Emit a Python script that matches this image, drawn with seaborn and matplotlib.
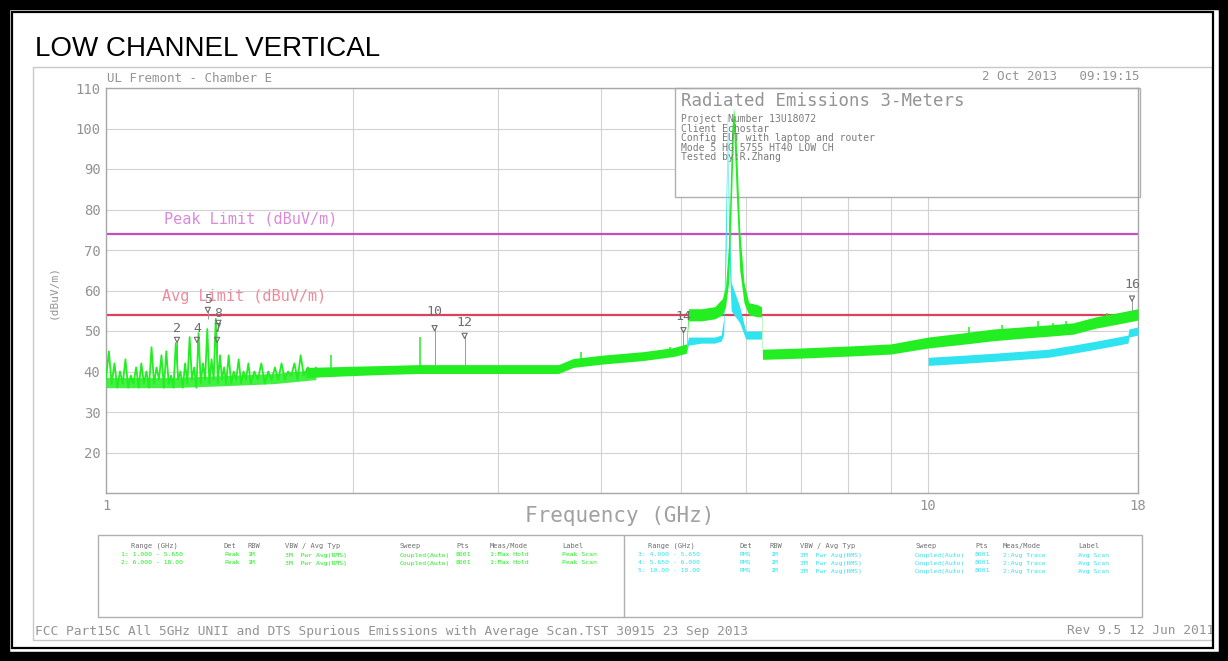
import matplotlib
matplotlib.use("Agg")
import matplotlib.pyplot as plt
import seaborn as sns
import pandas as pd
from matplotlib.patches import Rectangle
from matplotlib.ticker import NullLocator

sns.set_theme(style="white")
plt.rcParams['font.family'] = ['DejaVu Sans Mono', 'DejaVu Sans']

# ---------------- data ----------------
# spiky peak trace, 1 - 1.8 GHz (GHz, dBuV/m)
spiky_freq = [1.000, 1.008, 1.016, 1.024, 1.032, 1.040, 1.048, 1.056, 1.064, 1.072,
              1.080, 1.088, 1.096, 1.104, 1.112, 1.120, 1.128, 1.136, 1.144, 1.152,
              1.160, 1.168, 1.176, 1.184, 1.192, 1.200, 1.208, 1.216, 1.224, 1.232,
              1.240, 1.248, 1.256, 1.264, 1.272, 1.280, 1.288, 1.296, 1.304, 1.312,
              1.320, 1.328, 1.336, 1.344, 1.352, 1.360, 1.368, 1.376, 1.384, 1.392,
              1.400, 1.410, 1.420, 1.430, 1.440, 1.450, 1.460, 1.470, 1.480, 1.490,
              1.500, 1.515, 1.530, 1.545, 1.560, 1.575, 1.590, 1.605, 1.620, 1.635,
              1.650, 1.665, 1.680, 1.695, 1.710, 1.725, 1.740, 1.760, 1.780, 1.800]
spiky_level = [38, 45, 37, 42, 36, 40, 37, 43, 36, 39,
               37, 41, 36, 42, 37, 40, 36, 46, 37, 41,
               38, 44, 36, 45, 37, 39, 36, 47, 38, 40,
               36, 42, 37, 48.5, 38, 41, 36, 49.5, 37, 42,
               38, 50.5, 37, 43, 38, 53, 37, 44, 38, 41,
               37, 44, 37, 40, 38, 43, 37, 40, 38, 42,
               37, 40, 38, 42, 37, 40, 38, 41, 38, 42,
               38, 40, 39, 42, 38, 44, 39, 41, 39, 41]

# dense floor under the spikes, 1 - 1.8 GHz
floor_freq = [1.0, 1.2, 1.4, 1.6, 1.8]
floor_low = [36.0, 36.0, 36.5, 37.0, 38.0]
floor_high = [38.5, 38.5, 39.0, 39.5, 40.5]

# peak trace noise band, 1.75 - 18 GHz
band_freq = [1.75, 2.0, 2.2, 2.4, 2.6, 2.8, 3.0, 3.3, 3.55, 3.7, 4.0, 4.5, 4.9, 5.08,
             5.11, 5.3, 5.5, 5.62, 5.67, 5.72, 5.77, 5.80, 5.84, 5.90, 5.97, 6.05,
             6.20, 6.27, 6.29, 7.0, 8.0, 9.0, 10.0, 11.0, 12.0, 13.0, 14.0, 15.0,
             16.0, 17.0, 18.0]
band_low = [38.5, 39.0, 39.3, 39.5, 39.5, 39.5, 39.5, 39.5, 39.5, 41.0, 41.8, 42.7, 43.7, 44.5,
            52.5, 52.5, 53.0, 54.0, 56.0, 62.0, 85.0, 100.0, 85.0, 65.0, 57.0, 54.0,
            53.5, 53.5, 43.0, 43.3, 43.8, 44.3, 45.8, 46.7, 47.6, 48.2, 48.7, 49.2,
            50.7, 51.7, 52.7]
band_high = [41.0, 41.3, 41.5, 41.7, 41.7, 41.7, 41.7, 41.7, 41.7, 43.2, 44.0, 44.9, 45.9, 46.8,
             55.5, 55.5, 56.0, 58.0, 61.0, 72.0, 100.0, 105.0, 98.0, 75.0, 62.0, 57.0,
             56.5, 56.0, 45.5, 45.8, 46.3, 46.8, 48.5, 49.5, 50.5, 51.0, 51.5, 52.0,
             53.5, 54.5, 55.5]

# isolated spikes on top of the band
spike_freq = [1.88, 2.41, 3.78, 4.85, 11.2, 12.3, 13.6, 14.2, 14.7, 16.5]
spike_base = [40.0, 41.0, 42.0, 44.0, 48.5, 49.0, 49.5, 50.0, 50.0, 52.0]
spike_top = [44.0, 48.5, 44.8, 46.0, 51.0, 51.5, 52.5, 52.0, 52.5, 54.5]

# average trace (cyan), two segments
avg1_freq = [5.08, 5.11, 5.3, 5.5, 5.6, 5.64, 5.68, 5.70, 5.72, 5.76, 5.90, 6.00, 6.15, 6.27]
avg1_low = [44.5, 46.5, 47.0, 47.0, 47.5, 49.0, 70.0, 100.0, 70.0, 55.0, 52.0, 48.0, 48.0, 48.0]
avg1_high = [46.0, 48.5, 48.5, 48.5, 49.0, 53.0, 85.0, 104.0, 85.0, 62.0, 56.0, 50.0, 50.0, 50.0]
avg2_freq = [10.0, 11.0, 12.0, 13.0, 14.0, 15.0, 16.0, 17.0, 17.5, 17.55, 18.0]
avg2_low = [41.5, 42.0, 42.5, 43.0, 43.5, 44.5, 45.5, 46.5, 47.0, 48.5, 49.0]
avg2_high = [43.5, 44.0, 44.5, 45.0, 45.5, 46.5, 47.5, 48.5, 49.0, 50.5, 51.0]

# limits
peak_limit = 74
avg_limit = 54

# markers: label, frequency, label level, symbol level, stem base
marker_label = ["2", "4", "7", "5", "8", "10", "12", "14", "16"]
marker_freq = [1.22, 1.29, 1.365, 1.33, 1.37, 2.51, 2.73, 5.04, 17.7]
marker_text_level = [50.7, 50.7, 50.7, 57.8, 54.4, 54.7, 52.0, 53.5, 61.4]
marker_sym_level = [47.8, 47.8, 47.8, 55.2, 52.0, 50.7, 48.8, 50.2, 58.0]
marker_base = [41.0, 41.0, 44.0, 53.0, 50.0, 41.5, 41.5, 46.0, 55.0]

y_ticks = [10, 20, 30, 40, 50, 60, 70, 80, 90, 100, 110]
y_tick_labels = ["", "20", "30", "40", "50", "60", "70", "80", "90", "100", "110"]
x_ticks = [1, 2, 3, 4, 5, 6, 7, 8, 9, 10, 18]
x_tick_labels = ["1", "", "", "", "", "", "", "", "", "10", "18"]

info_lines = ["Project Number 13U18072", "Client Echostar",
              "Config EUT with laptop and router", "Mode 5 HG 5755 HT40 LOW CH",
              "Tested by:R.Zhang"]

table_headers = ["Range (GHz)", "Det", "RBW", "VBW / Avg Typ", "Sweep", "Pts", "Meas/Mode", "Label"]
left_rows = [["1: 1.000 - 5.650", "Peak", "1M", "3M  Pwr Avg(RMS)", "Coupled(Auto)", "8001", "1:Max Hold", "Peak Scan"],
             ["2: 6.000 - 18.00", "Peak", "1M", "3M  Pwr Avg(RMS)", "Coupled(Auto)", "8001", "1:Max Hold", "Peak Scan"]]
right_rows = [["3: 4.000 - 5.650", "RMS", "1M", "3M  Pwr Avg(RMS)", "Coupled(Auto)", "8001", "2:Avg Trace", "Avg Scan"],
              ["4: 5.650 - 6.000", "RMS", "1M", "3M  Pwr Avg(RMS)", "Coupled(Auto)", "8001", "2:Avg Trace", "Avg Scan"],
              ["5: 10.00 - 18.00", "RMS", "1M", "3M  Pwr Avg(RMS)", "Coupled(Auto)", "8001", "2:Avg Trace", "Avg Scan"]]

# ---------------- styling ----------------
GREEN = "#22ee22"
CYAN = "#2fe3ef"
PEAKC = "#c84cc8"
AVGC = "#e0405e"
GRAY = "#939393"
GRID = "#d2d2d2"

W, H = 1228, 661
fig = plt.figure(figsize=(W / 100, H / 100), dpi=100)


def fx(px):
    return px / W


def fy(py):
    return 1 - py / H


# outer frame
fig.patches.append(Rectangle((0, 0), 1, 1, transform=fig.transFigure, fill=False,
                             edgecolor="black", lw=14, zorder=10))
fig.patches.append(Rectangle((fx(12), fy(648)), fx(1213) - fx(12), fy(12) - fy(648),
                             transform=fig.transFigure, fill=False, edgecolor="black",
                             lw=1.6, zorder=10))
# gray panel
fig.patches.append(Rectangle((fx(33), fy(640)), fx(1212) - fx(33), fy(67) - fy(640),
                             transform=fig.transFigure, fill=False, edgecolor="#c8c8c8",
                             lw=1.0, zorder=1))

fig.text(fx(35), fy(56), "LOW CHANNEL VERTICAL", family="Liberation Sans",
         fontsize=20, color="black", ha="left", va="baseline")

ax = fig.add_axes([fx(106), fy(493), fx(1138) - fx(106), fy(88) - fy(493)])

# limit lines
limit_df = pd.DataFrame({"f": [1, 18], "peak": [peak_limit] * 2, "avg": [avg_limit] * 2})
sns.lineplot(data=limit_df, x="f", y="peak", ax=ax, color=PEAKC, lw=1.6, zorder=2.5)
sns.lineplot(data=limit_df, x="f", y="avg", ax=ax, color=AVGC, lw=1.6, zorder=2.5)

# average trace
ax.fill_between(avg1_freq, avg1_low, avg1_high, color=CYAN, lw=0, zorder=3)
ax.fill_between(avg2_freq, avg2_low, avg2_high, color=CYAN, lw=0, zorder=3)

# peak trace
ax.fill_between(floor_freq, floor_low, floor_high, color=GREEN, lw=0, zorder=3.2, alpha=0.85)
ax.fill_between(band_freq, band_low, band_high, color=GREEN, lw=0, zorder=3.2)
sns.lineplot(x=spiky_freq, y=spiky_level, ax=ax, color=GREEN, lw=1.3,
             estimator=None, sort=False, zorder=3.2)
ax.vlines(spike_freq, spike_base, spike_top, color=GREEN, lw=1.1, zorder=3.2)

ax.set_xscale("log")
ax.set_xlim(1, 18)
ax.set_ylim(10, 110)
ax.xaxis.set_minor_locator(NullLocator())
ax.set_xticks(x_ticks)
ax.set_xticklabels(x_tick_labels)
ax.set_yticks(y_ticks)
ax.set_yticklabels(y_tick_labels)
ax.tick_params(length=0, labelsize=10, labelcolor=GRAY, pad=4)
ax.grid(True, color=GRID, lw=0.8)
ax.set_axisbelow(True)
for s in ax.spines.values():
    s.set_color("#a8a8a8")
    s.set_linewidth(1.0)
ax.set_xlabel("")
ax.set_ylabel("")

ax.text(1.178, 77.7, "Peak Limit (dBuV/m)", fontsize=11, color="#d98ad9", ha="left", va="center")
ax.text(1.171, 58.4, "Avg Limit (dBuV/m)", fontsize=11, color="#ef8a9b", ha="left", va="center")

# info box
ax.add_patch(Rectangle((fx(675), fy(197)), fx(1140) - fx(675), fy(88) - fy(197),
                       transform=fig.transFigure, facecolor="white", edgecolor="#b0b0b0",
                       lw=1.0, zorder=1.5, clip_on=False))
fig.text(fx(681), fy(101), "Radiated Emissions 3-Meters", fontsize=12.5, color=GRAY,
         ha="left", va="center", zorder=2)
for i, line in enumerate(info_lines):
    fig.text(fx(681), fy(119 + i * 9.6), line, fontsize=7, color="#7a7a7a",
             ha="left", va="center", zorder=2)

# markers
ax.vlines(marker_freq, marker_base, marker_sym_level, color="#9a9a9a", lw=0.7, zorder=4)
ax.scatter(marker_freq, marker_sym_level, marker="v", s=14, facecolors="none",
           edgecolors="#6e6e6e", lw=0.8, zorder=4)
for lab, f, lv in zip(marker_label, marker_freq, marker_text_level):
    ax.text(f, lv, lab, fontsize=9.5, color="#6e6e6e", ha="center", va="center", zorder=4)

# header texts
fig.text(fx(107), fy(78), "UL Fremont - Chamber E", fontsize=9, color=GRAY, ha="left", va="center")
fig.text(fx(1140), fy(76), "2 Oct 2013   09:19:15", fontsize=9, color=GRAY, ha="right", va="center")
fig.text(fx(53), fy(292), "(dBuV/m)", fontsize=8, color=GRAY, rotation=90, ha="center", va="center")
fig.text(fx(620), fy(516), "Frequency (GHz)", fontsize=15, color="#a0a0a0",
         ha="center", va="center")

# table
fig.patches.append(Rectangle((fx(98), fy(617)), fx(1142) - fx(98), fy(535) - fy(617),
                             transform=fig.transFigure, fill=False, edgecolor="#b0b0b0", lw=1.0))
fig.lines.append(plt.Line2D([fx(624), fx(624)], [fy(617), fy(535)], transform=fig.transFigure,
                            color="#b0b0b0", lw=1.0))
left_cols = [131, 224, 247, 285, 400, 456, 490, 562]
right_cols = [648, 740, 770, 800, 915, 975, 1003, 1078]
for cols, rows, col in [(left_cols, left_rows, GREEN), (right_cols, right_rows, CYAN)]:
    for h, x in zip(table_headers, cols):
        fig.text(fx(x), fy(546), h, fontsize=5, color="#6e6e6e", ha="left", va="center")
    for r, row in enumerate(rows):
        for t, x in zip(row, cols):
            fig.text(fx(x - 10 if x == cols[0] else x), fy(555 + r * 8), t, fontsize=4.6,
                     color=col, ha="left", va="center")

# footer
fig.text(fx(35), fy(631), "FCC Part15C All 5GHz UNII and DTS Spurious Emissions with Average Scan.TST 30915 23 Sep 2013",
         fontsize=9.3, color=GRAY, ha="left", va="center")
fig.text(fx(1214), fy(631), "Rev 9.5 12 Jun 2011", fontsize=9.3, color=GRAY, ha="right", va="center")

fig.savefig("out.png", dpi=100)
